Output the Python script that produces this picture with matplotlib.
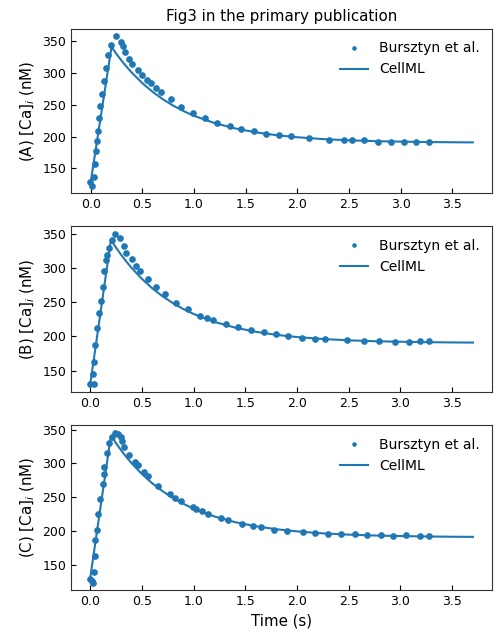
import matplotlib
matplotlib.use("Agg")
import matplotlib.pyplot as plt

tA = [-0.006, 0.016, 0.032, 0.042, 0.051, 0.061, 0.071, 0.077, 0.093, 0.109, 0.125, 0.145, 0.164, 0.198,
      0.244, 0.289, 0.309, 0.331, 0.367, 0.402, 0.453, 0.498, 0.54, 0.579, 0.63, 0.675, 0.772, 0.878,
      0.99, 1.103, 1.219, 1.344, 1.455, 1.58, 1.695, 1.818, 1.94, 2.116, 2.31, 2.45, 2.53, 2.65, 2.78,
      2.905, 3.03, 3.15, 3.275]
cA = [129, 123, 137, 157, 177, 194, 209, 229, 249, 268, 287, 308, 328, 345,
      358, 349, 343, 334, 323, 315, 305, 297, 290, 284, 276, 271, 259, 247,
      238, 229, 222, 217, 212.5, 208.4, 205, 202.6, 201, 198, 195.3, 195.3, 194.3, 194.3, 192.5,
      192.5, 192.5, 192.5, 191.5]

tB = [0.0, 0.032, 0.026, 0.035, 0.051, 0.061, 0.087, 0.103, 0.119, 0.138, 0.154, 0.164, 0.18, 0.206,
      0.235, 0.289, 0.325, 0.35, 0.4, 0.447, 0.482, 0.563, 0.64, 0.72, 0.833, 0.949, 1.061, 1.132,
      1.183, 1.309, 1.431, 1.554, 1.676, 1.80, 1.917, 2.045, 2.177, 2.274, 2.482, 2.643, 2.794,
      2.948, 3.08, 3.186, 3.275]
cB = [130, 130, 145, 162.7, 187.7, 212, 234, 252, 272, 296, 312, 319, 329.5, 341,
      350, 344, 333, 322.6, 313.8, 303, 296, 284.5, 273, 261.5, 249, 240, 230.7, 226.8,
      224, 218.5, 213.6, 209.7, 206.7, 204.3, 201.4, 198.4, 197, 197, 195.5, 194, 193.3,
      191.8, 191.8, 193.3, 193.3]

tC = [0.0, 0.013, 0.029, 0.032, 0.042, 0.048, 0.061, 0.074, 0.093, 0.119, 0.129, 0.138, 0.161, 0.18,
      0.209, 0.244, 0.273, 0.293, 0.309, 0.331, 0.376, 0.431, 0.466, 0.518, 0.56, 0.659, 0.772,
      0.823, 0.878, 0.994, 1.019, 1.084, 1.141, 1.267, 1.328, 1.47, 1.57, 1.647, 1.779, 1.905,
      2.055, 2.177, 2.30, 2.42, 2.556, 2.678, 2.81, 2.932, 3.057, 3.186, 3.275]
cC = [129, 126, 123.4, 139, 162.3, 187, 201.2, 225.4, 247, 270, 285, 294.3, 315.5, 329.8,
      339.2, 345.6, 343, 339, 333.3, 324.4, 312, 302.7, 297.3, 287.4, 281, 267.2, 254.4,
      249, 243.6, 235.2, 232.3, 229, 225.5, 219, 216.5, 209.7, 206.7, 205.7, 201.7, 200.2,
      198.3, 197.3, 195.8, 194.9, 194.9, 193.4, 193.4, 192, 193.4, 192, 192]

# CellML model curve
t_model = [0.0, 0.2, 0.22, 0.25, 0.3, 0.35, 0.4, 0.5, 0.6, 0.7, 0.8, 0.9, 1.0, 1.2, 1.4, 1.6,
           1.8, 2.0, 2.25, 2.5, 2.75, 3.0, 3.25, 3.5, 3.7]
c_model = [130, 341, 336.8, 330.0, 319.3, 309.5, 300.4, 284.3, 270.5, 258.8, 248.8, 240.2, 232.9,
           221.4, 213.0, 206.9, 202.4, 199.2, 196.3, 194.4, 193.1, 192.3, 191.7, 191.3, 191.1]

panels = ["(A)", "(B)", "(C)"]
xticks = [0.0, 0.5, 1.0, 1.5, 2.0, 2.5, 3.0, 3.5]
yticks = [150, 200, 250, 300, 350]

color = "#1f77b4"
fig = plt.figure(figsize=(4.97, 6.29), dpi=100)
boxes = [(0.143, 0.693, 0.847, 0.261),
         (0.143, 0.377, 0.847, 0.263),
         (0.143, 0.062, 0.847, 0.262)]
data = [(tA, cA), (tB, cB), (tC, cC)]
for i, (box, (t, c), lab) in enumerate(zip(boxes, data, panels)):
    ax = fig.add_axes(box)
    ax.plot(t, c, 'o', color=color, markersize=3.8, label="Bursztyn et al.")
    ax.plot(t_model, c_model, '-', color=color, linewidth=1.5, label="CellML")
    ax.set_xticks(xticks)
    ax.set_yticks(yticks)
    ax.tick_params(direction='in', labelsize=9)
    ax.set_ylabel(lab + " [Ca]$_i$ (nM)", fontsize=10.8)
    ax.legend(loc="upper right", frameon=False, fontsize=10, markerscale=0.6)
    for s in ax.spines.values():
        s.set_color("#333333")
    if i == 0:
        ax.set_title("Fig3 in the primary publication", fontsize=10.8)
    if i == 2:
        ax.set_xlabel("Time (s)", fontsize=10.8)

fig.savefig("out.png", dpi=100)
